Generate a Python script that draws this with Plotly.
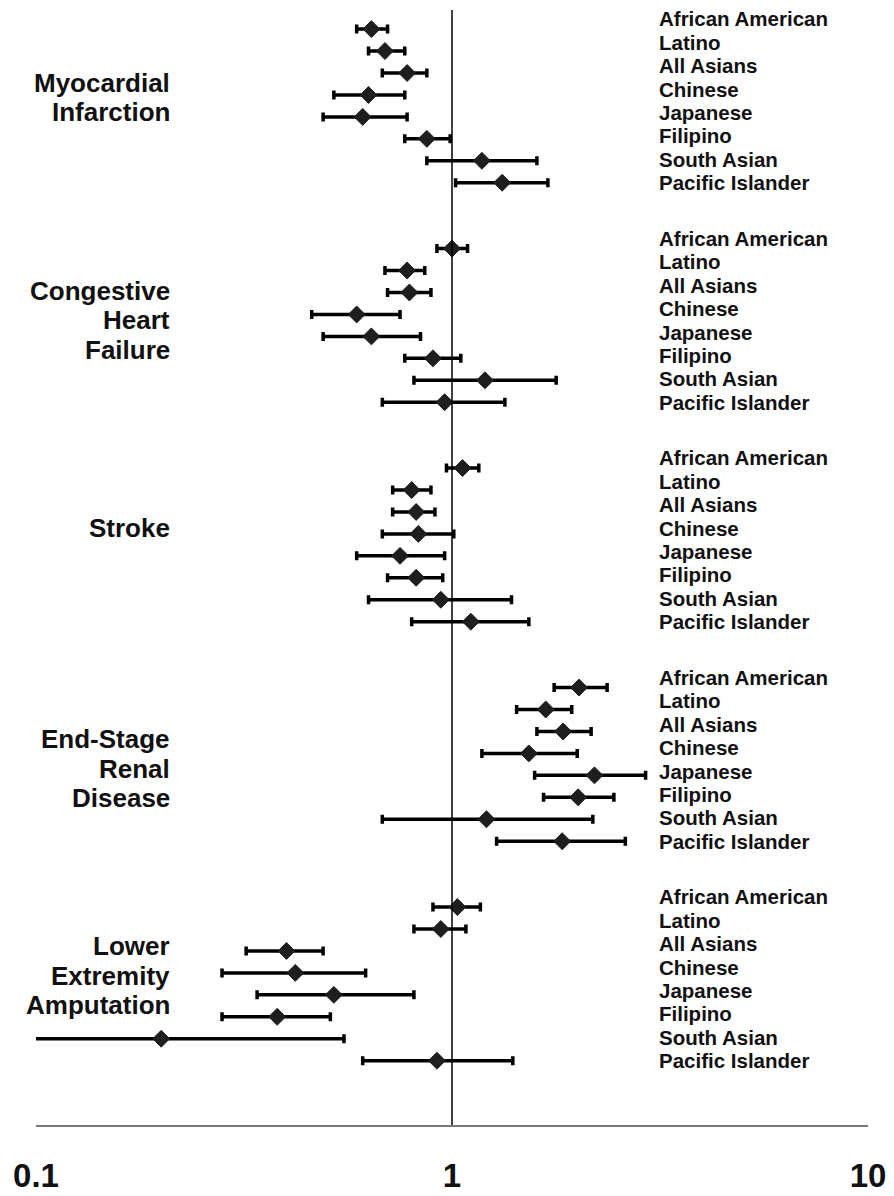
import plotly.graph_objects as go

# ---------------- data ----------------
ethnicities = ["African American", "Latino", "All Asians", "Chinese",
               "Japanese", "Filipino", "South Asian", "Pacific Islander"]

outcomes = [
    ["Myocardial", "Infarction"],
    ["Congestive", "Heart", "Failure"],
    ["Stroke"],
    ["End-Stage", "Renal", "Disease"],
    ["Lower", "Extremity", "Amputation"],
]

mi_hr = [0.64, 0.69, 0.78, 0.63, 0.61, 0.87, 1.18, 1.32]
mi_lo = [0.59, 0.63, 0.68, 0.52, 0.49, 0.77, 0.87, 1.02]
mi_hi = [0.70, 0.77, 0.87, 0.77, 0.78, 0.99, 1.60, 1.70]

chf_hr = [1.00, 0.78, 0.79, 0.59, 0.64, 0.90, 1.20, 0.96]
chf_lo = [0.92, 0.69, 0.70, 0.46, 0.49, 0.77, 0.81, 0.68]
chf_hi = [1.09, 0.86, 0.89, 0.75, 0.84, 1.05, 1.78, 1.34]

stroke_hr = [1.06, 0.80, 0.82, 0.83, 0.75, 0.82, 0.94, 1.11]
stroke_lo = [0.97, 0.72, 0.72, 0.68, 0.59, 0.70, 0.63, 0.80]
stroke_hi = [1.16, 0.89, 0.91, 1.01, 0.96, 0.95, 1.39, 1.53]

esrd_hr = [2.02, 1.68, 1.85, 1.53, 2.20, 2.01, 1.21, 1.84]
esrd_lo = [1.76, 1.43, 1.60, 1.18, 1.58, 1.66, 0.68, 1.28]
esrd_hi = [2.36, 1.94, 2.16, 2.00, 2.92, 2.45, 2.18, 2.61]

lea_hr = [1.03, 0.94, 0.40, 0.42, 0.52, 0.38, 0.20, 0.92]
lea_lo = [0.90, 0.81, 0.32, 0.28, 0.34, 0.28, 0.08, 0.61]
lea_hi = [1.17, 1.08, 0.49, 0.62, 0.81, 0.51, 0.55, 1.40]

x_tick_values = [0.1, 1, 10]
x_tick_labels = ["0.1", "1", "10"]
null_value = 1

# ---------------- layout helpers ----------------
hr_all = [mi_hr, chf_hr, stroke_hr, esrd_hr, lea_hr]
lo_all = [mi_lo, chf_lo, stroke_lo, esrd_lo, lea_lo]
hi_all = [mi_hi, chf_hi, stroke_hi, esrd_hi, lea_hi]

GROUP_GAP = 10            # row units between group starts
LABEL_STEP = 1.066        # right-side labels are spaced slightly wider than marks
TITLE_CENTER = [3.12, 3.27, 2.75, 3.70, 3.14]
TITLE_LINE_STEP = 1.345   # row units between lines of a group title
FONT = "Liberation Sans, Arial, Helvetica, sans-serif"

xs, ys, ep, em = [], [], [], []
for g in range(len(outcomes)):
    for i in range(len(ethnicities)):
        v = hr_all[g][i]
        xs.append(v)
        ys.append(g * GROUP_GAP + i)
        ep.append(hi_all[g][i] - v)
        em.append(v - lo_all[g][i])

fig = go.Figure()
fig.add_trace(go.Scatter(
    x=xs, y=ys, mode="markers",
    marker=dict(symbol="diamond", size=13, color="#1e1e1e",
                line=dict(color="#1e1e1e", width=1)),
    error_x=dict(type="data", symmetric=False, array=ep, arrayminus=em,
                 color="black", thickness=3.5, width=4.5),
    showlegend=False, hoverinfo="skip",
))

# reference line at HR = 1
fig.add_shape(type="line", xref="x", yref="paper",
              x0=null_value, x1=null_value, y0=0, y1=1,
              line=dict(color="black", width=1.5))

annotations = []
for g, lines in enumerate(outcomes):
    for i, name in enumerate(ethnicities):
        annotations.append(dict(
            x=0.7467, xref="paper", xanchor="left",
            y=g * GROUP_GAP + 7 + (i - 7) * LABEL_STEP, yref="y", yanchor="middle",
            text="<b>%s</b>" % name, showarrow=False,
            font=dict(family=FONT, size=20.5, color="#111111")))
    n = len(lines)
    for k, line in enumerate(lines):
        annotations.append(dict(
            x=0.1636, xref="paper", xanchor="right",
            y=g * GROUP_GAP + TITLE_CENTER[g] + (k - (n - 1) / 2) * TITLE_LINE_STEP,
            yref="y", yanchor="middle",
            text="<b>%s</b>" % line, showarrow=False,
            font=dict(family=FONT, size=26, color="#111111")))

# the page body adds an 8px margin, so the figure is sized/offset to compensate
fig.update_layout(
    width=886, height=1188,
    margin=dict(l=28, r=26, t=2, b=71),
    paper_bgcolor="white", plot_bgcolor="white",
    annotations=annotations,
    xaxis=dict(type="log", range=[-1, 1], tickvals=x_tick_values,
               ticktext=["<b>%s</b>" % t for t in x_tick_labels],
               showgrid=False, zeroline=False, showline=True,
               linecolor="#7a7a7a", linewidth=2, ticks="",
               ticklabelstandoff=20, automargin=False,
               tickfont=dict(family="Liberation Sans, Arial",
                             size=33, color="#111111")),
    yaxis=dict(range=[49.93, -0.87], visible=False, showgrid=False,
               zeroline=False, automargin=False),
)

fig.write_html("out.html")
